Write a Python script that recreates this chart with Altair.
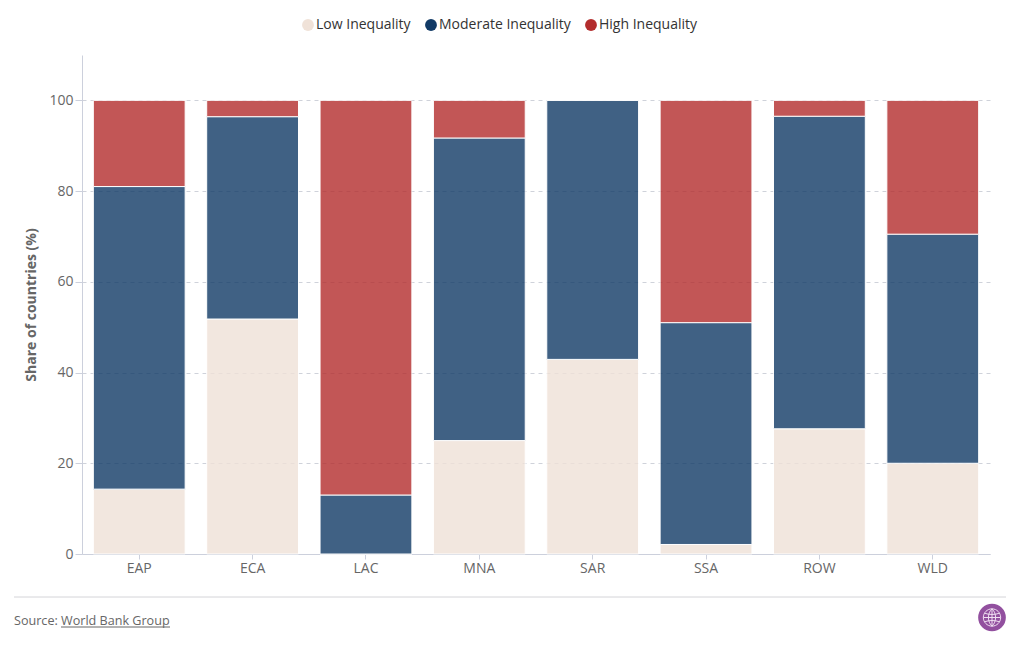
import altair as alt
import pandas as pd

regions = ["EAP", "ECA", "LAC", "MNA", "SAR", "SSA", "ROW", "WLD"]
low = [14.3, 51.8, 0.0, 25.0, 42.9, 2.1, 27.6, 20.0]
moderate = [66.7, 44.6, 13.0, 66.7, 57.1, 48.9, 68.9, 50.5]
high = [19.0, 3.6, 87.0, 8.3, 0.0, 49.0, 3.5, 29.5]
series = ["Low Inequality", "Moderate Inequality", "High Inequality"]
colors = ["#f0e2d8", "#113a66", "#b32d2d"]
y_ticks = [0, 20, 40, 60, 80, 100]

rows = []
for name, values in zip(series, [low, moderate, high]):
    for region, value in zip(regions, values):
        rows.append({"region": region, "series": name, "value": value, "order": series.index(name)})
df = pd.DataFrame(rows)

FONT = "Open Sans"
W, H = 908, 499
globe = ("M-1,0A1,1 0 1,0 1,0A1,1 0 1,0 -1,0Z M-1,0L1,0 M0,-1L0,1 "
         "M0,-1C-0.55,-0.5 -0.55,0.5 0,1 M0,-1C0.55,-0.5 0.55,0.5 0,1 "
         "M-0.85,-0.5C-0.4,-0.3 0.4,-0.3 0.85,-0.5 M-0.85,0.5C-0.4,0.3 0.4,0.3 0.85,0.5")

bars = alt.Chart(df).mark_bar(opacity=0.8, stroke="white", strokeWidth=1).encode(
    x=alt.X("region:N", sort=regions, title=None,
            scale=alt.Scale(paddingInner=0.19, paddingOuter=0.1),
            axis=alt.Axis(labelAngle=0, labelFont=FONT, labelFontSize=14, labelColor="#666666",
                          domainColor="#ccd0dc", tickColor="#ccd0dc", tickSize=5, labelPadding=2,
                          grid=False)),
    y=alt.Y("value:Q", stack="zero", title="Share of countries (%)",
            scale=alt.Scale(domain=[0, 110], nice=False),
            axis=alt.Axis(values=y_ticks, labelFont=FONT, labelFontSize=14, labelColor="#666666",
                          titleFont=FONT, titleFontSize=14, titleFontWeight="bold", titleColor="#666666",
                          titlePadding=10, domainColor="#ccd0dc", tickColor="#ccd0dc", tickSize=7,
                          labelPadding=2, grid=True, gridColor="#cfd2da", gridDash=[4, 4], gridWidth=1)),
    color=alt.Color("series:N", sort=series,
                    scale=alt.Scale(domain=series, range=colors),
                    legend=alt.Legend(orient="none", legendX=219, legendY=-37, direction="horizontal",
                                      title=None, symbolType="circle", symbolSize=140, symbolOpacity=1,
                                      symbolStrokeWidth=0, labelFont=FONT, labelFontSize=14,
                                      labelColor="#333333", labelOffset=1, columnPadding=13,
                                      columns=3)),
    order=alt.Order("order:Q"),
)

footer_rule = alt.Chart(pd.DataFrame({"k": [0]})).mark_rule(color="#d4d4d8", strokeWidth=1, clip=False).encode(
    x=alt.value(-68), x2=alt.value(924), y=alt.value(542))
source_text = alt.Chart(pd.DataFrame({"t": ["Source: World Bank Group"]})).mark_text(
    font=FONT, fontSize=12.6, color="#666666", align="left", baseline="middle").encode(
    text="t:N", x=alt.value(-68), y=alt.value(565.5))
link_rule = alt.Chart(pd.DataFrame({"k": [0]})).mark_rule(color="#666666", strokeWidth=1).encode(
    x=alt.value(-21), x2=alt.value(88), y=alt.value(572))
icon_bg = alt.Chart(pd.DataFrame({"k": [0]})).mark_point(
    shape="circle", filled=True, fill="#92509f", opacity=1, size=660, stroke="#92509f").encode(
    x=alt.value(910), y=alt.value(562.5))
icon_lines = alt.Chart(pd.DataFrame({"k": [0]})).mark_point(
    shape=globe, filled=False, stroke="#f0dff2", strokeWidth=1, opacity=1, size=300).encode(
    x=alt.value(910), y=alt.value(562.5))

chart = alt.layer(bars, footer_rule, source_text, link_rule, icon_bg, icon_lines).properties(
    width=W, height=H,
    autosize=alt.AutoSizeParams(type="none"),
    padding={"left": 74, "top": 47, "right": 22, "bottom": 86},
    background="white",
).configure_view(stroke=None)

chart.save("out.html", embed_options={"renderer": "svg", "actions": False})
